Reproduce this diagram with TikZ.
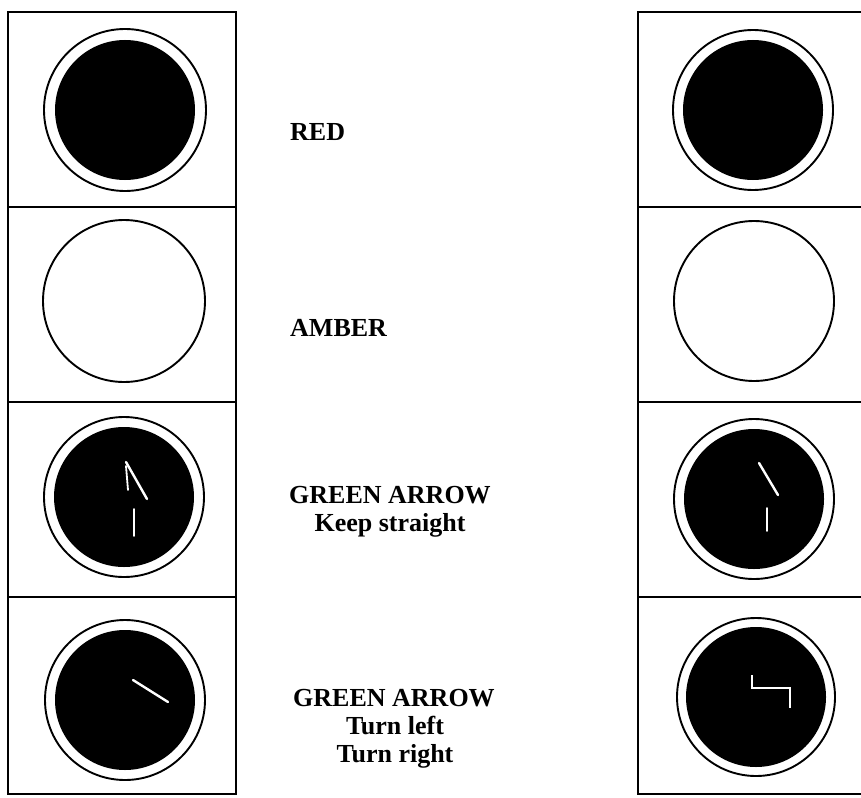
\documentclass[tikz,border=0pt]{standalone}
\usepackage{fontspec}
\setmainfont{Liberation Serif}
\begin{document}
\begin{tikzpicture}[x=1pt,y=-1pt,
  frame/.style={line width=1.6pt},
  lens/.style={line width=1.9pt},
  disc/.style={fill=black},
  glow/.style={draw=white,line width=2.4pt,line cap=round},
  lbl/.style={font=\bfseries\fontsize{26}{28}\selectfont,inner sep=0pt,anchor=base}]
\useasboundingbox (0,0) rectangle (861,797);
\fill[white] (0,0) rectangle (861,797);
% left panel
\draw[frame] (8,12) rectangle (236,794);
\foreach \y in {207,402,597} \draw[frame] (8,\y) -- (236,\y);
% right panel
\draw[frame] (861,12) -- (638,12) -- (638,794) -- (861,794);
\foreach \y in {207,402,597} \draw[frame] (638,\y) -- (861,\y);
% left lamps
\draw[lens] (125,110) circle (81);
\fill[disc] (125,110) circle (70);
\draw[lens] (124,301) circle (81);
\draw[lens] (124,497) circle (80);
\fill[disc] (124,497) circle (70);
\draw[lens] (125,700) circle (80);
\fill[disc] (125,700) circle (70);
% right lamps
\draw[lens] (753,110) circle (80);
\fill[disc] (753,110) circle (70);
\draw[lens] (754,301) circle (80);
\draw[lens] (754,499) circle (80);
\fill[disc] (754,499) circle (70);
\draw[lens] (756,697) circle (79);
\fill[disc] (756,697) circle (70);
% arrows (left)
\draw[glow] (126,462) -- (147,499);
\draw[glow,line width=1.8pt] (126,466) -- (128,490);
\draw[glow,line width=1.8pt] (134,509) -- (134,536);
\draw[glow] (133,680) -- (168,702);
% arrows (right)
\draw[glow] (759,463) -- (778,495);
\draw[glow,line width=1.8pt] (767,508) -- (767,531);
\draw[glow,line width=2pt,line cap=butt] (752,675) -- (752,688) -- (790,688) -- (790,708);
% labels
\node[lbl,anchor=base west] (red) at (290,140) {RED};
\node[lbl,anchor=base west] (amber) at (290,336) {AMBER};
\node[lbl] (g1) at (390,503) {GREEN ARROW};
\node[lbl] (k1) at (390,531) {Keep straight};
\node[lbl] (g2) at (394,706) {GREEN ARROW};
\node[lbl] (t1) at (395,734) {Turn left};
\node[lbl] (t2) at (395,762) {Turn right};
\end{tikzpicture}
\end{document}
